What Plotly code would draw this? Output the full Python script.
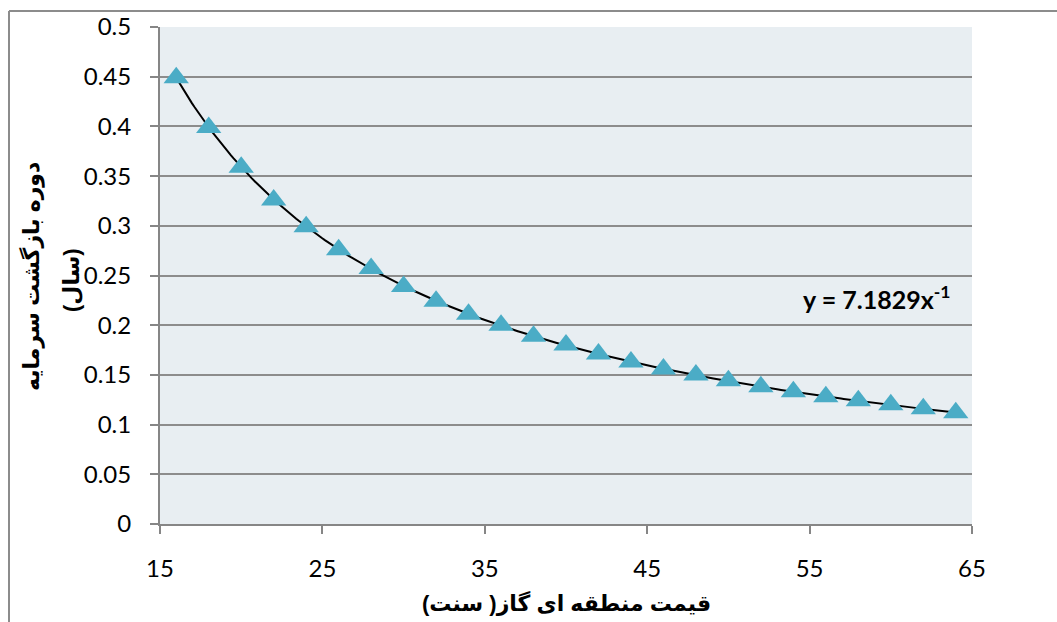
import numpy as np
import plotly.graph_objects as go

# Gas price (cents) and payback period (years)
gas_price = [16, 18, 20, 22, 24, 26, 28, 30, 32, 34, 36, 38, 40,
             42, 44, 46, 48, 50, 52, 54, 56, 58, 60, 62, 64]
payback = [0.449, 0.399, 0.359, 0.326, 0.299, 0.276, 0.257, 0.239, 0.224,
           0.211, 0.200, 0.189, 0.180, 0.171, 0.163, 0.156, 0.150, 0.144,
           0.138, 0.133, 0.128, 0.124, 0.120, 0.116, 0.112]

# Power trendline y = a * x^b
trend_a = 7.1829
trend_b = -1

x_ticks = [15, 25, 35, 45, 55, 65]
y_ticks = [0, 0.05, 0.1, 0.15, 0.2, 0.25, 0.3, 0.35, 0.4, 0.45, 0.5]
y_tick_text = ["0", "0.05", "0.1", "0.15", "0.2", "0.25", "0.3", "0.35", "0.4", "0.45", "0.5"]

x_title = "قیمت منطقه ای گاز( سنت)"
y_title_1 = "دوره بازگشت سرمایه"
y_title_2 = "(سال)"

W, H = 1057, 622
ML, MR, MT, MB = 160, 85, 27, 98
PW, PH = W - ML - MR, H - MT - MB


def px_x(p):
    return (p - ML) / PW


def px_y(p):
    return 1 - (p - MT) / PH


tick_font = dict(family="Lato, Open Sans, Liberation Sans, sans-serif", size=24, color="#000000")
title_font = dict(family="Liberation Sans, DejaVu Sans, Arial, sans-serif", size=22, color="#000000")

trend_x = np.linspace(min(gas_price), max(gas_price), 300)
trend_y = trend_a * trend_x ** trend_b

fig = go.Figure()
fig.add_trace(go.Scatter(
    x=trend_x, y=trend_y, mode="lines",
    line=dict(color="#000000", width=2),
    hoverinfo="skip", showlegend=False,
))
fig.add_trace(go.Scatter(
    x=gas_price, y=payback, mode="markers",
    marker=dict(symbol="triangle-up", size=22, color="#4BACC6", line=dict(width=0)),
    showlegend=False,
))

fig.update_xaxes(
    range=[15, 65], tickvals=x_ticks, ticktext=[str(v) for v in x_ticks],
    showgrid=False, zeroline=False,
    showline=True, linecolor="#868686", linewidth=2,
    ticks="outside", ticklen=8, tickwidth=2, tickcolor="#868686",
    tickfont=tick_font, ticklabelstandoff=14,
)
fig.update_yaxes(
    range=[0, 0.5], tickvals=y_ticks, ticktext=y_tick_text,
    showgrid=True, gridcolor="#8C8C8C", gridwidth=2, zeroline=False,
    showline=True, linecolor="#868686", linewidth=2,
    ticks="outside", ticklen=8, tickwidth=2, tickcolor="#868686",
    tickfont=tick_font, ticklabelstandoff=14,
)

centered = dict(xref="paper", yref="paper", showarrow=False,
                xanchor="center", yanchor="middle")
annotations = [
    dict(text="<b>y = 7.1829x<sup>-1</sup></b>", x=px_x(876), y=px_y(297),
         font=dict(family="Lato, Open Sans, Liberation Sans, sans-serif", size=25, color="#000000"),
         **centered),
    dict(text="<b>" + x_title + "</b>", x=px_x(566), y=px_y(603),
         font=title_font, **centered),
    dict(text="<b>" + y_title_1 + "</b>", x=px_x(31), y=px_y(277),
         textangle=-90, font=title_font, **centered),
    dict(text="<b>" + y_title_2 + "</b>", x=px_x(71), y=px_y(280),
         textangle=-90, font=title_font, **centered),
]

# Chart frame: top and left border lines
shapes = [
    dict(type="line", xref="paper", yref="paper",
         x0=px_x(9), y0=px_y(11), x1=px_x(W + 5), y1=px_y(11),
         line=dict(color="#8C8C8C", width=2)),
    dict(type="line", xref="paper", yref="paper",
         x0=px_x(9), y0=px_y(11), x1=px_x(9), y1=px_y(H + 5),
         line=dict(color="#8C8C8C", width=2)),
]

fig.update_layout(
    width=W, height=H,
    margin=dict(l=ML, r=MR, t=MT, b=MB),
    paper_bgcolor="#FFFFFF", plot_bgcolor="#E8EEF2",
    annotations=annotations, shapes=shapes,
    showlegend=False,
)

fig.write_html("out.html")
